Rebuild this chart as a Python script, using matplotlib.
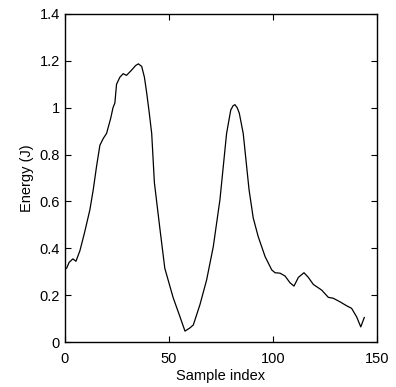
import numpy as np
import matplotlib
matplotlib.use('Agg')
import matplotlib.pyplot as plt

plt.rcParams['font.family'] = ['Liberation Sans', 'DejaVu Sans']

sample = [0.8, 2.0, 3.8, 5.3, 7.2, 9.5, 12.0, 13.6, 15.2, 16.8, 18.5, 20.0, 22.0, 23.1,
          24.0, 24.8, 26.4, 28.0, 29.6, 32.0, 34.0, 35.3, 36.9, 38.2, 39.3, 40.5, 41.7,
          43.0, 45.7, 48.0, 52.0, 55.3, 57.7, 60.0, 61.7, 64.9, 68.1, 71.3, 74.5, 77.7,
          79.7, 80.8, 81.7, 82.8, 83.8, 85.7, 88.5, 90.5, 92.9, 96.2, 99.4, 101.0, 103.4,
          105.8, 108.2, 110.1, 112.2, 114.9, 117.0, 119.4, 123.4, 126.6, 129.0, 132.2,
          135.4, 137.8, 140.2, 142.2, 143.9]
energy = [0.315, 0.34, 0.355, 0.345, 0.39, 0.47, 0.565, 0.65, 0.75, 0.84, 0.87, 0.89,
          0.955, 1.0, 1.02, 1.10, 1.13, 1.145, 1.138, 1.16, 1.18, 1.187, 1.176, 1.13,
          1.063, 0.98, 0.89, 0.68, 0.48, 0.315, 0.19, 0.108, 0.047, 0.06, 0.073, 0.16,
          0.265, 0.407, 0.607, 0.89, 0.99, 1.008, 1.013, 1.0, 0.977, 0.89, 0.65, 0.53,
          0.45, 0.365, 0.308, 0.296, 0.294, 0.282, 0.253, 0.239, 0.276, 0.296, 0.276,
          0.246, 0.222, 0.191, 0.187, 0.172, 0.155, 0.144, 0.108, 0.065, 0.105]

fig = plt.figure(figsize=(3.96, 3.87), dpi=100)
ax = fig.add_axes([0.164, 0.116, 0.788, 0.848])

ax.plot(sample, energy, color='k', linewidth=0.9)

ax.set_xlim(0, 150)
ax.set_ylim(0, 1.4)
ax.set_xticks([0, 50, 100, 150])
ax.set_yticks([0, 0.2, 0.4, 0.6, 0.8, 1.0, 1.2, 1.4])
ax.set_yticklabels(['0', '0.2', '0.4', '0.6', '0.8', '1', '1.2', '1.4'])
ax.tick_params(direction='in', top=True, right=True, length=4, width=0.8, labelsize=10.5)
ax.tick_params(axis='x', pad=7)
for s in ax.spines.values():
    s.set_linewidth(1.0)

ax.set_xlabel('Sample index', fontsize=10.5, labelpad=2)
ax.set_ylabel('Energy (J)', fontsize=10.5, labelpad=4)

fig.savefig('out.png', dpi=100)
